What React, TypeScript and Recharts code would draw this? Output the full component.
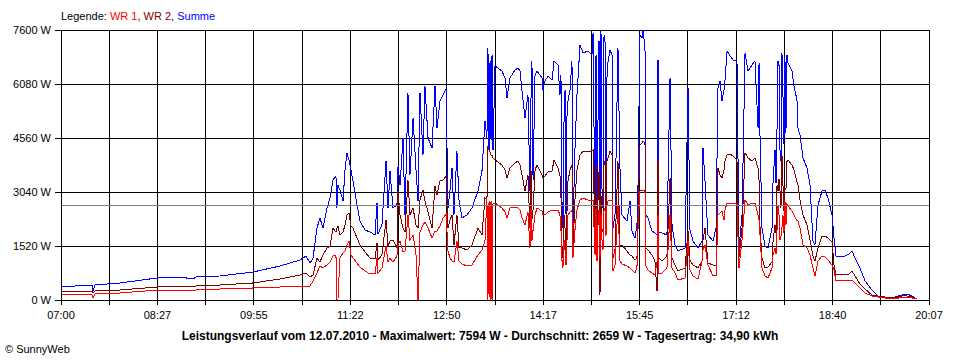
import React from "react";
import { LineChart, Line, XAxis, YAxis, CartesianGrid, ReferenceLine } from "recharts";

// minutes after 07:00
const times = [
  0, 12.7, 28.1, 29.0, 30.8, 53.5, 87.0, 107.9, 119.7, 122.4,
  144.2, 174.1, 198.6, 216.7, 222.1, 225.8, 228.5, 232.1, 234.8, 237.5,
  241.2, 243.9, 246.6, 249.3, 250.2, 251.1, 252.9, 255.7, 257.5, 259.3,
  261.1, 262.9, 264.7, 268.4, 271.1, 275.6, 280.2, 284.7, 286.5, 287.4,
  291.0, 294.7, 296.5, 298.3, 301.0, 304.6, 305.6, 307.4, 310.1, 311.9,
  314.6, 316.4, 319.2, 321.9, 323.7, 325.5, 328.2, 330.0, 332.8, 336.4,
  339.1, 340.9, 343.6, 346.4, 349.1, 350.9, 352.7, 354.5, 356.3, 359.0,
  360.9, 363.6, 368.1, 372.6, 378.1, 381.7, 384.4, 386.2, 387.1, 388.1,
  389.0, 389.9, 390.8, 391.7, 393.5, 399.8, 402.6, 404.4, 407.1, 411.6,
  414.4, 416.2, 418.0, 420.7, 423.4, 425.2, 426.1, 427.0, 428.0, 429.8,
  431.6, 436.1, 437.0, 438.8, 441.6, 445.2, 447.0, 450.6, 452.4, 453.3, 454.2,
  455.1, 456.1, 457.0, 457.9, 458.8, 459.7, 461.5, 463.3, 464.2, 466.0, 467.8, 470.6,
  473.3, 477.8, 481.4, 482.4, 484.2, 485.1, 486.0, 486.9, 487.8, 488.7, 489.6, 490.5, 491.4, 492.3,
  493.2, 494.1, 495.0, 496.0, 497.8, 499.6, 500.5, 502.3, 505.0, 506.8, 508.6,
  513.2, 515.9, 517.7, 520.4, 522.2, 523.1, 524.9, 526.8, 527.7, 529.5,
  530.4, 532.2, 535.8, 538.5, 540.4, 541.3, 542.2, 544.9, 549.4, 552.2,
  554.0, 556.7, 559.4, 565.8, 568.5, 570.3, 573.0, 577.6, 581.2, 582.1,
  583.9, 586.6, 591.2, 593.9, 595.7, 597.5, 599.3, 601.1, 602.0, 603.9,
  606.6, 609.3, 612.9, 614.7, 617.5, 620.2, 622.9, 626.5, 629.2, 632.0,
  632.9, 633.8, 635.6, 638.3, 641.0, 644.7, 645.6, 647.4, 648.3, 649.2, 650.1, 651.0,
  651.9, 652.8, 653.7, 654.6, 655.5, 656.4, 657.3, 658.2, 659.2, 662.8, 664.6, 667.3, 668.2, 670.0,
  672.8, 676.4, 679.1, 681.8, 683.6, 686.4, 690.0, 692.7, 695.4, 699.1,
  700.9, 702.7, 710.8, 714.5, 717.2, 719.9, 724.4, 729.0, 735.3, 740.8,
  747.2, 756.2, 762.5, 767.0, 771.6, 776.1,
];

const wr1 = [
  141, 141, 141, 56, 169, 197, 281, 281, 253, 281,
  310, 338, 366, 394, 394, 394, 535, 760, 957, 901,
  985, 1070, 1238, 1267, 0, 0, 1182, 1323, 1379, 1548,
  1661, 1267, 1182, 1041, 929, 816, 732, 732, 1182, 760,
  901, 1520, 1070, 1182, 1070, 1238, 1548, 1661, 1351, 1379,
  2393, 1689, 1830, 1267, 0, 1914, 2111, 2196, 2027, 1745,
  1942, 1942, 2083, 2308, 2421, 1379, 1182, 1098, 1070, 1661,
  1098, 1013, 957, 985, 1267, 1407, 1661, 2871, 0, 2787,
  0, 2787, 0, 2730, 2730, 2590, 2477, 2308, 2590, 2590,
  2590, 2533, 2308, 2111, 2477, 1464, 2590, 1661, 1970, 2393,
  2590, 2505, 2393, 2393, 2477, 2533, 2533, 2533, 2393, 1970, 1126,
  901, 1689, 1407, 985, 1689, 2393, 2477, 2533, 1182, 1970, 2533, 2815,
  2871, 2815, 2787, 2787, 1267, 2590, 1098, 2111, 2533, 1182, 2393, 1689, 1407, 2505,
  2590, 1800, 2674, 2787, 2787, 2815, 816, 985, 2674, 1098, 1013,
  957, 901, 844, 760, 901, 1970, 3068, 3096, 3096, 3068,
  957, 844, 760, 704, 1070, 2393, 760, 760, 901, 2393,
  901, 760, 563, 619, 1661, 844, 676, 591, 1098, 1407,
  1548, 985, 676, 676, 2393, 2449, 2505, 2252, 2533, 2730,
  2730, 2730, 2730, 901, 1689, 2815, 2674, 2730, 2730, 2393,
  2252, 1830, 901, 676, 619, 901, 1267, 1464, 1300, 1970, 2674, 2400,
  1689, 1800, 2027, 2393, 1900, 2787, 2100, 2700, 2646, 2505, 2393, 2224, 2224, 2027,
  1548, 1464, 1267, 901, 676, 1098, 1238, 1210, 1126, 985,
  844, 535, 535, 535, 563, 479, 338, 197, 113, 84,
  56, 28, 84, 84, 56, 28,
];

const wr2 = [
  225, 253, 253, 197, 253, 281, 366, 394, 366, 394,
  422, 479, 591, 704, 760, 647, 704, 1182, 1070, 1267,
  1464, 1520, 2027, 1914, 2027, 2083, 1830, 1914, 2111, 2393,
  2449, 2083, 2027, 1745, 1548, 1351, 1182, 1154, 1604, 1126,
  1267, 2252, 1520, 1661, 1689, 1464, 3068, 2393, 2027, 1914,
  3378, 2393, 2590, 2111, 2027, 2815, 3096, 2787, 2477, 2027,
  3209, 2956, 3350, 3378, 3490, 2027, 2252, 2393, 1548, 2393,
  1464, 1464, 1407, 1548, 2027, 1830, 2871, 2815, 4278, 4222,
  4166, 4081, 4081, 3997, 3941, 3800, 3659, 3434, 3716, 3856,
  3913, 3800, 3519, 3068, 3519, 2027, 3716, 2252, 2533, 3659,
  3800, 3519, 3434, 3490, 3603, 3631, 3941, 3716, 3519, 2956, 1548,
  1182, 2393, 2027, 1407, 2533, 3350, 3659, 3800, 1464, 2815, 3659, 4081,
  4194, 4166, 4194, 4222, 1689, 3800, 1182, 2815, 3603, 141, 2956, 1970, 1914, 3800,
  3913, 2400, 3913, 3997, 4194, 4081, 1182, 1407, 3913, 1548, 1548,
  1379, 1267, 1238, 1126, 1182, 2252, 4363, 4419, 4476, 4419,
  1464, 1407, 1267, 1098, 253, 3913, 1182, 1098, 1238, 3434,
  1182, 985, 816, 901, 1942, 1126, 985, 901, 1098, 1689,
  2027, 1041, 985, 985, 3716, 3519, 3434, 3659, 3913, 4081,
  4110, 4053, 3941, 1182, 2027, 4138, 3997, 3913, 3997, 3716,
  3378, 2027, 1182, 901, 929, 1070, 1661, 2111, 1900, 3237, 3068, 3400,
  3068, 2600, 4081, 3237, 2500, 3153, 3100, 3900, 3941, 3800, 3659, 3321, 3237, 2815,
  2393, 2111, 1689, 1238, 1098, 1464, 1801, 1801, 1745, 1633,
  985, 704, 704, 732, 816, 676, 450, 310, 141, 113,
  84, 56, 113, 113, 84, 28,
];

const summe = [
  366, 394, 422, 253, 422, 479, 619, 647, 591, 647,
  676, 788, 957, 1126, 1238, 1041, 1182, 2027, 2308, 2027,
  2590, 2871, 3378, 3490, 2590, 3237, 3096, 2787, 3659, 4138,
  3941, 3659, 3350, 2674, 2224, 1970, 1914, 1830, 2730, 1858,
  2111, 3913, 2590, 3631, 2590, 2674, 3800, 3237, 4560, 2393,
  5827, 3519, 5123, 3659, 2787, 5827, 4081, 6024, 4560, 4278,
  6024, 4841, 5601, 5770, 5939, 2590, 3096, 3716, 2393, 4194,
  2787, 2308, 2393, 2590, 3068, 3631, 5039, 4560, 7093, 4222,
  6727, 4504, 6896, 4222, 6587, 6446, 6249, 5686, 6249, 6474,
  6530, 6446, 5883, 5123, 5770, 3068, 5630, 6727, 3378, 6333,
  6446, 6249, 5911, 6164, 6305, 6193, 6727, 6615, 5770, 6333, 2815,
  2027, 5067, 5911, 2393, 5200, 5601, 5911, 6727, 2027, 4222, 5770, 7178,
  6953, 7009, 6896, 7515, 2027, 6896, 1830, 5067, 7300, 2027, 7572, 3153, 2590, 7400,
  7459, 3500, 6249, 6727, 7037, 6896, 2027, 2393, 7093, 3716, 2393,
  2224, 2787, 1942, 1745, 2111, 3068, 7459, 7375, 7594, 7093,
  2393, 2308, 1942, 1886, 1830, 6756, 1886, 1886, 1830, 6249,
  2111, 1548, 1379, 1464, 5967, 1970, 1661, 1464, 1661, 4278,
  3350, 1830, 1661, 2027, 5967, 6164, 5601, 5911, 6164, 7009,
  6868, 6756, 6727, 1464, 2393, 6953, 6446, 6615, 6727, 4841,
  6671, 4560, 2027, 1520, 1464, 2027, 3350, 4222, 3300, 4841, 6727, 6600,
  4222, 3900, 6953, 5770, 4400, 6812, 4700, 6900, 6671, 6446, 6024, 5630, 4841, 4644,
  3997, 3716, 3237, 1661, 1548, 2674, 3068, 3096, 2871, 2393,
  1745, 1238, 1238, 1295, 1379, 1182, 901, 535, 281, 113,
  84, 84, 141, 169, 113, 28,
];

const xTickLabels = ["07:00", "08:27", "09:55", "11:22", "12:50", "14:17", "15:45", "17:12", "18:40", "20:07"];
const yTicks = [0, 1520, 3040, 4560, 6080, 7600];
const average = 2659;
const dayMinutes = 787;

const data = times.map((t, i) => ({ t, wr1: wr1[i], wr2: wr2[i], summe: summe[i] }));
// one grid line between each labelled tick
const gridTicks = Array.from({ length: 19 }, (_, i) => (i * dayMinutes) / 18);

const font = "'Liberation Sans', Arial, sans-serif";

export default function App() {
  return (
    <div style={{ position: "absolute", left: 0, top: 0, width: 960, height: 360, background: "#fff", fontFamily: font }}>
      <style>{`.recharts-cartesian-grid line, .recharts-cartesian-axis-line, .recharts-cartesian-axis-tick-line, .recharts-reference-line line, .recharts-line-curve { shape-rendering: crispEdges; }`}</style>
      <div style={{ position: "absolute", left: 61, top: 10, fontSize: 11, lineHeight: "13px", whiteSpace: "nowrap" }}>
        Legende: <span style={{ color: "#ff0000" }}>WR 1</span>, <span style={{ color: "#800000" }}>WR 2</span>,{" "}
        <span style={{ color: "#0000ff" }}>Summe</span>
      </div>
      <LineChart
        width={960}
        height={360}
        data={data}
        margin={{ top: 30, right: 31, bottom: 30, left: 0 }}
        style={{ fontFamily: font }}
      >
        <CartesianGrid stroke="#000" strokeOpacity={1} />
        <XAxis
          dataKey="t"
          type="number"
          domain={[0, dayMinutes]}
          ticks={gridTicks}
          interval={0}
          height={30}
          tickSize={5}
          tickMargin={6}
          stroke="#000"
          tick={{ fill: "#000", fontSize: 11 }}
          tickFormatter={(_v: number, i: number) => (i % 2 === 0 ? xTickLabels[i / 2] : "")}
        />
        <YAxis
          type="number"
          domain={[0, 7600]}
          ticks={yTicks}
          interval={0}
          width={61}
          tickSize={6}
          tickMargin={4}
          stroke="#000"
          tick={{ fill: "#000", fontSize: 11 }}
          tickFormatter={(v: number) => `${v} W`}
        />
        <Line dataKey="summe" stroke="#0000ff" strokeWidth={1} dot={false} type="linear" isAnimationActive={false} />
        <Line dataKey="wr2" stroke="#800000" strokeWidth={1} dot={false} type="linear" isAnimationActive={false} />
        <Line dataKey="wr1" stroke="#ff0000" strokeWidth={1} dot={false} type="linear" isAnimationActive={false} />
        <ReferenceLine y={average} stroke="#808080" strokeWidth={1} />
      </LineChart>
      <div style={{ position: "absolute", left: 0, top: 329, width: 960, textAlign: "center", fontSize: 12, fontWeight: "bold", lineHeight: "14px" }}>
        Leistungsverlauf vom 12.07.2010 - Maximalwert: 7594 W - Durchschnitt: 2659 W - Tagesertrag: 34,90 kWh
      </div>
      <div style={{ position: "absolute", left: 5, top: 343, fontSize: 11, lineHeight: "13px" }}>© SunnyWeb</div>
    </div>
  );
}
